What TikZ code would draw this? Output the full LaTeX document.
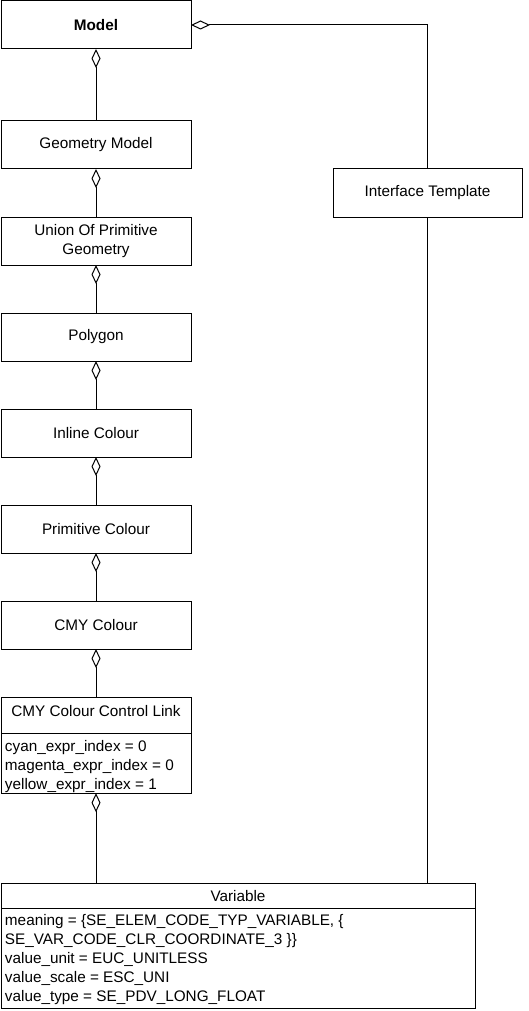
\documentclass[tikz,border=0pt]{standalone}
\usepackage{fontspec}
\setmainfont{Liberation Sans}
\usetikzlibrary{positioning,arrows.meta,shapes.multipart}

\begin{document}
\begin{tikzpicture}[
			agg/.style = {{Diamond[open,length=19pt,width=9pt]}-}, % aggregation end
			classbox/.style = {draw, rectangle, minimum width=190pt, minimum height=48pt, inner sep=0pt, outer sep=0pt, align=center},
			attrbox/.style = {draw, rectangle split, rectangle split parts=2, rectangle split part align={center,left}, minimum width=190pt, inner xsep=4pt, inner ysep=0pt, outer sep=0pt, align=left},
			node distance = 48pt, % distance between boxes
			line width = 1pt, % line style
			font=\fontsize{15.3}{19}\selectfont
			]
			
			\fill[white] (0pt,0pt) rectangle (529pt,-1011pt);
			\useasboundingbox (0pt,0pt) rectangle (529pt,-1011pt);
			
			\node[classbox] (model) at (96pt,-25pt) {\textbf{Model}};
			\node[classbox] (geom) [below=72pt of model] {Geometry Model};
			\node[classbox] (union) [below=of geom] {Union Of Primitive\\Geometry};
			\node[classbox] (poly) [below=of union] {Polygon};
			\node[classbox] (inline) [below=of poly] {Inline Colour};
			\node[classbox] (prim) [below=of inline] {Primitive Colour};
			\node[classbox] (cmy) [below=of prim] {CMY Colour};
			\node[attrbox] (link) [below=of cmy] {\rule[-16pt]{0pt}{35pt}CMY Colour Control Link
				\nodepart{two}\rule{0pt}{18pt}cyan\_expr\_index = 0\\
				magenta\_expr\_index = 0\\
				yellow\_expr\_index = 1\rule[-3pt]{0pt}{0pt}};
			\node[attrbox, minimum width=474pt] (var) [below=90pt of link.south west, anchor=north west] {\rule[-6pt]{0pt}{24pt}Variable
				\nodepart{two}\rule{0pt}{17pt}meaning = \{SE\_ELEM\_CODE\_TYP\_VARIABLE, \{\\
				SE\_VAR\_CODE\_CLR\_COORDINATE\_3 \}\}\\
				value\_unit = EUC\_UNITLESS\\
				value\_scale = ESC\_UNI\\
				value\_type = SE\_PDV\_LONG\_FLOAT\rule[-6pt]{0pt}{0pt}};
			\node[classbox, minimum width=189pt] (itemp) at (427.5pt,-193pt) {Interface Template};
			
			\path[agg] 	
			(model) 	edge (geom)
			(geom) 	edge (union)
			(union) 	edge (poly)
			(poly) 	edge (inline)
			(inline) 	edge (prim)
			(prim) 	edge (cmy)
			(cmy) 	edge (link)
			(link) 	edge (link.south |- var.north);
			
			\draw[agg] (model) -| (itemp);
			\draw (itemp) -- (itemp |- var.north);
			
		\end{tikzpicture}
\end{document}
